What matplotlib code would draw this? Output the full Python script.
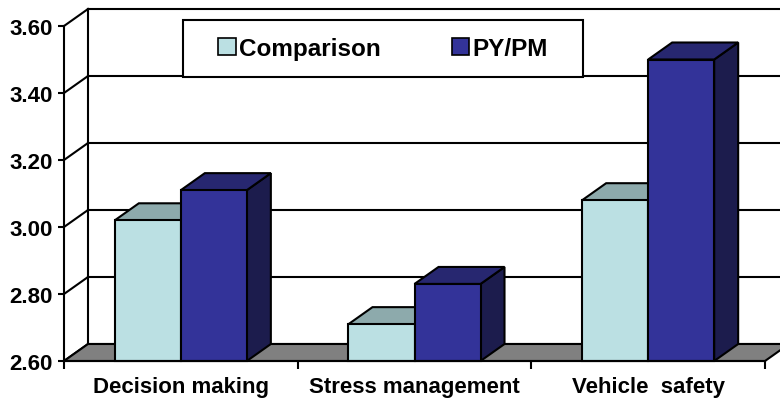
import matplotlib
matplotlib.use('Agg')
import matplotlib.pyplot as plt
from matplotlib.patches import Polygon, Patch, Rectangle
from matplotlib.lines import Line2D

# ---- data ----
categories = ['Decision making', 'Stress management', 'Vehicle  safety']
series_names = ['Comparison', 'PY/PM']
comparison = [3.02, 2.71, 3.08]
pypm = [3.11, 2.83, 3.50]
yticks = [2.60, 2.80, 3.00, 3.20, 3.40, 3.60]

# ---- style ----
plt.rcParams['font.family'] = ['Liberation Sans', 'DejaVu Sans']
plt.rcParams['font.weight'] = 'bold'
LW = 1.5
front_colors = ['#BBE0E3', '#333399']
top_colors = ['#8DAAAC', '#272770']
side_colors = ['#7FA0A3', '#1C1C4D']
floor_color = '#808080'

W, H = 780, 402
fig = plt.figure(figsize=(W / 100, H / 100), dpi=100)
left_px, right_px, top_px, bot_px = 64, 765, 27, 362
ax = fig.add_axes([left_px / W, (H - bot_px) / H,
                   (right_px - left_px) / W, (bot_px - top_px) / H])
ymin, ymax = yticks[0], yticks[-1]
n = len(categories)
ax.set_xlim(0, n)
ax.set_ylim(ymin, ymax)
ax.patch.set_visible(False)

# depth offsets (24px right, 17px up) in data units
dx = 24 / ((right_px - left_px) / n)
dy = 17 / ((bot_px - top_px) / (ymax - ymin))

# back wall gridlines and side wall diagonals
for v in yticks:
    ax.add_line(Line2D([dx, n + dx], [v + dy, v + dy], color='black', lw=LW,
                       clip_on=False, zorder=1))
    ax.add_line(Line2D([0, dx], [v, v + dy], color='black', lw=LW,
                       clip_on=False, zorder=1))
ax.add_line(Line2D([dx, dx], [ymin + dy, ymax + dy], color='black', lw=LW,
                   clip_on=False, zorder=1))

# floor
ax.add_patch(Polygon([(0, ymin), (dx, ymin + dy), (n + dx, ymin + dy), (n, ymin)],
                     closed=True, facecolor=floor_color, edgecolor='black',
                     lw=LW, clip_on=False, zorder=2))

# bars
gap = 0.2175
bw = (1 - 2 * gap) / 2
for i in range(n):
    for s, vals in enumerate([comparison, pypm]):
        v = vals[i]
        x0 = i + gap + s * bw
        x1 = x0 + bw
        z = 3 + s
        ax.add_patch(Polygon([(x1, ymin), (x1 + dx, ymin + dy), (x1 + dx, v + dy), (x1, v)],
                             closed=True, facecolor=side_colors[s], edgecolor='black',
                             lw=LW, clip_on=False, zorder=z))
        ax.add_patch(Polygon([(x0, v), (x0 + dx, v + dy), (x1 + dx, v + dy), (x1, v)],
                             closed=True, facecolor=top_colors[s], edgecolor='black',
                             lw=LW, clip_on=False, zorder=z))
        ax.add_patch(Polygon([(x0, ymin), (x0, v), (x1, v), (x1, ymin)],
                             closed=True, facecolor=front_colors[s], edgecolor='black',
                             lw=LW, clip_on=False, zorder=z))

# axes / ticks
for sp in ['top', 'right']:
    ax.spines[sp].set_visible(False)
for sp in ['left', 'bottom']:
    ax.spines[sp].set_linewidth(LW)
    ax.spines[sp].set_zorder(6)
ax.set_yticks(yticks)
ax.set_yticklabels(['%.2f' % t for t in yticks])
ax.tick_params(axis='y', direction='out', length=4, width=LW, pad=4, labelsize=16)
ax.set_xticks(range(n + 1))
ax.set_xticklabels([''] * (n + 1))
ax.set_xticks([i + 0.5 for i in range(n)], minor=True)
ax.set_xticklabels(categories, minor=True)
ax.tick_params(axis='x', which='major', direction='out', length=6, width=LW)
ax.tick_params(axis='x', which='minor', length=0, pad=11, labelsize=16)

# legend box (frame) + legend entries
box = (0.170, 0.848, 0.5705, 0.170)
ax.add_patch(Rectangle(box[:2], box[2], box[3], transform=ax.transAxes,
                       facecolor='white', edgecolor='black', lw=LW,
                       clip_on=False, zorder=9))
handles = [Patch(facecolor=front_colors[s], edgecolor='black', lw=1.2, label=series_names[s])
           for s in range(2)]
leg = ax.legend(handles=handles, ncol=2, loc='center',
                bbox_to_anchor=(box[0], box[1], box[2], box[3]),
                frameon=False,
                prop={'size': 17.5, 'weight': 'bold'},
                handlelength=0.72, handleheight=0.72, handletextpad=0.15,
                columnspacing=2.9, borderaxespad=0)
leg.set_zorder(10)

fig.savefig('out.png', dpi=100)
